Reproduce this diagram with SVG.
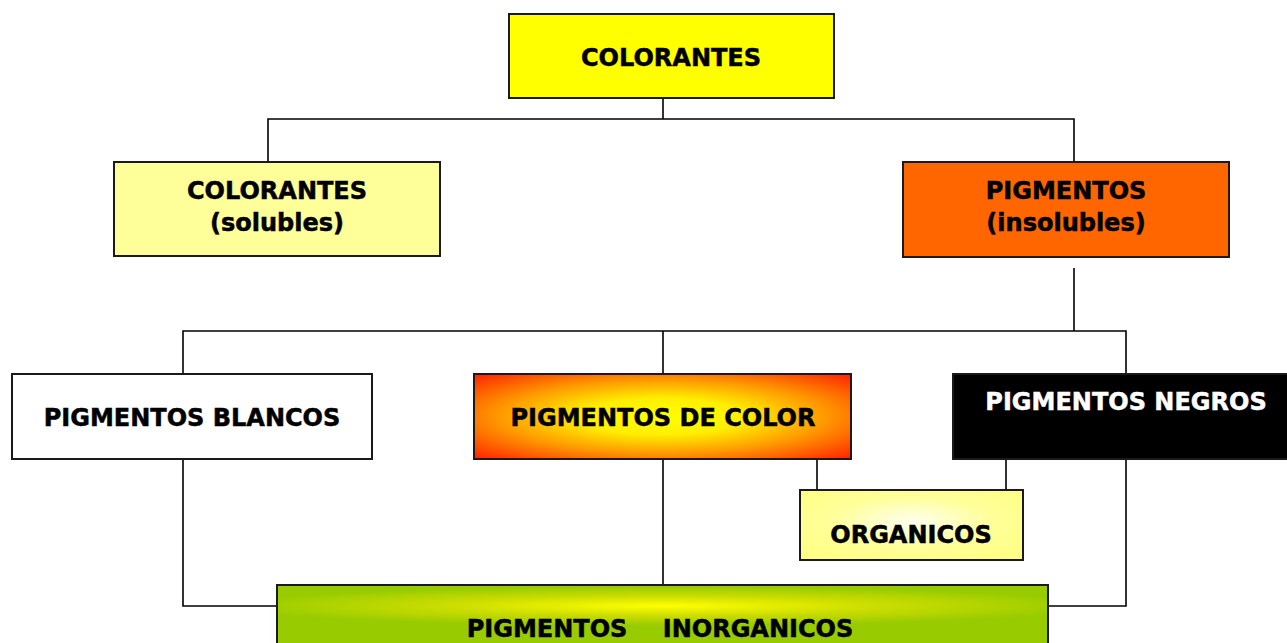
<svg xmlns="http://www.w3.org/2000/svg" width="1287" height="643" viewBox="0 0 1287 643">
<style>
.box{stroke:#1a1a1a;stroke-width:2}
.t{font-family:"DejaVu Sans","Liberation Sans",sans-serif;font-weight:bold;font-size:24px;text-anchor:middle;fill:#000;stroke:#000;stroke-width:0.5}
.w{fill:#fff;stroke:#fff}
.ln{fill:none;stroke:#000;stroke-width:1.6}
</style>
<defs>
<radialGradient id="gColor" cx="50%" cy="50%" r="72%">
<stop offset="0" stop-color="#ffff00"/>
<stop offset="0.3" stop-color="#ffee00"/>
<stop offset="0.6" stop-color="#ff9900"/>
<stop offset="1" stop-color="#ff1a00"/>
</radialGradient>
<radialGradient id="gOrg" cx="50%" cy="45%" r="60%">
<stop offset="0" stop-color="#ffffee"/>
<stop offset="0.6" stop-color="#ffff99"/>
<stop offset="1" stop-color="#ffff88"/>
</radialGradient>
<radialGradient id="gInorg" cx="50%" cy="30%" r="55%" fx="50%" fy="30%" gradientTransform="translate(0.5 0.3) scale(1 0.5) translate(-0.5 -0.3)">
<stop offset="0" stop-color="#ffff00"/>
<stop offset="0.5" stop-color="#ccdd00"/>
<stop offset="1" stop-color="#99cc00"/>
</radialGradient>
</defs>
<g id="connectors">
<path class="ln" d="M663 98V119M268 162V119H1074V162"/>
<path class="ln" d="M1074 268V331M183 374V331H1126V374M663 331V374"/>
<path class="ln" d="M663 459V585M817 459V490M1006 459V490"/>
<path class="ln" d="M183 459V606H277M1126 459V606H1048"/>
</g>
<g id="colorantes">
<rect class="box" x="509" y="14" width="325" height="84" fill="#ffff00"/>
<text class="t" x="671" y="66">COLORANTES</text>
</g>
<g id="colorantes-solubles">
<rect class="box" x="114" y="162" width="326" height="94" fill="#ffff99"/>
<text class="t" x="277" y="199">COLORANTES</text>
<text class="t" x="277" y="231">(solubles)</text>
</g>
<g id="pigmentos-insolubles">
<rect class="box" x="903" y="162" width="326" height="95" fill="#ff6600"/>
<text class="t" x="1066" y="199">PIGMENTOS</text>
<text class="t" x="1066" y="231">(insolubles)</text>
</g>
<g id="pigmentos-blancos">
<rect class="box" x="12" y="374" width="360" height="85" fill="#ffffff"/>
<text class="t" x="192" y="426">PIGMENTOS BLANCOS</text>
</g>
<g id="pigmentos-de-color">
<rect class="box" x="474" y="374" width="377" height="85" fill="url(#gColor)"/>
<text class="t" x="663" y="426">PIGMENTOS DE COLOR</text>
</g>
<g id="pigmentos-negros">
<rect class="box" x="953" y="374" width="340" height="85" fill="#000000"/>
<text class="t w" x="1126" y="410">PIGMENTOS NEGROS</text>
</g>
<g id="organicos">
<rect class="box" x="800" y="490" width="223" height="70" fill="url(#gOrg)"/>
<text class="t" x="911" y="543">ORGANICOS</text>
</g>
<g id="pigmentos-inorganicos">
<rect class="box" x="277" y="585" width="771" height="70" fill="url(#gInorg)"/>
<text class="t" x="547" y="637">PIGMENTOS</text>
<text class="t" x="758" y="637">INORGANICOS</text>
</g>
</svg>
